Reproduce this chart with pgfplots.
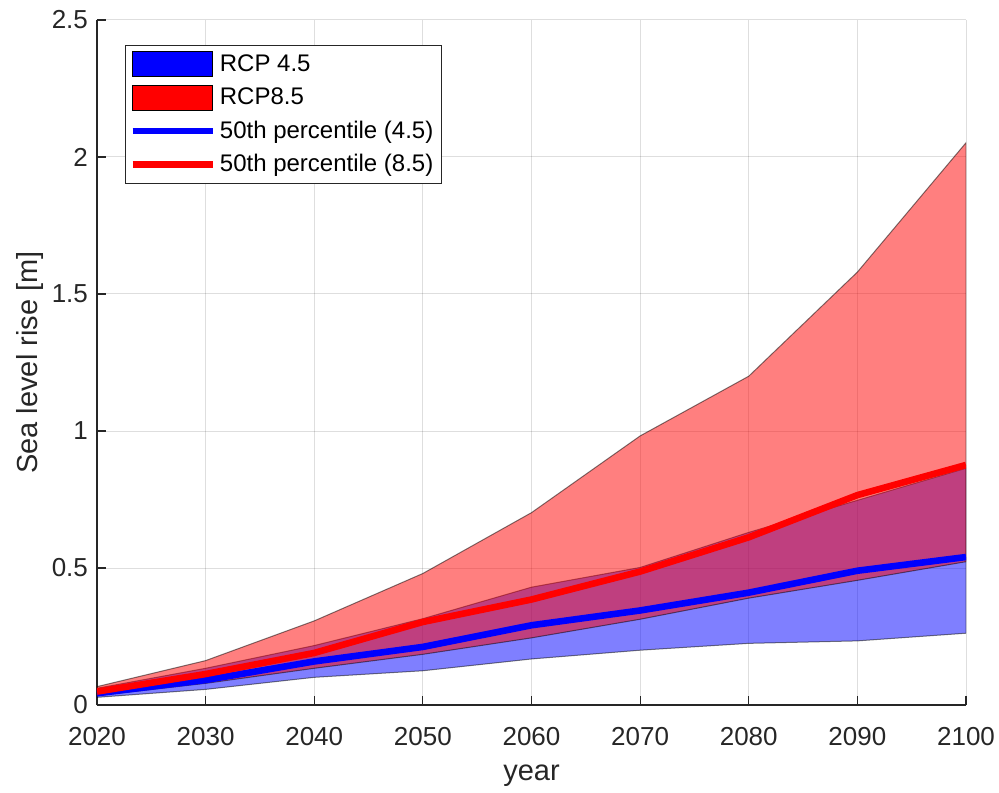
\documentclass[border=0pt]{standalone}
\usepackage{fontspec}
\setmainfont{Liberation Sans}
\usepackage{pgfplots}
\pgfplotsset{compat=1.18}
\definecolor{axgray}{RGB}{38,38,38}

\begin{document}
\begin{tikzpicture}
\begin{axis}[
    scale only axis,
    width=434.5pt,
    height=342.5pt,
    xmin=2020, xmax=2100,
    ymin=0, ymax=2.5,
    xtick={2020,2030,...,2100},
    ytick={0,0.5,1,1.5,2,2.5},
    /pgf/number format/1000 sep={},
    /pgf/number format/assume math mode=true,
    axis x line*=bottom,
    axis y line*=left,
    axis line style={axgray, line width=0.6pt, -},
    tick align=inside,
    major tick length=4.5pt,
    tick style={axgray, line width=0.6pt},
    grid=major,
    major grid style={black, opacity=0.13, line width=0.5pt},
    ticklabel style={font=\fontsize{13}{15}\selectfont, text=axgray},
    xticklabel style={yshift=-7.5pt},
    yticklabel style={xshift=-1pt},
    xlabel={year},
    ylabel={Sea level rise [m]},
    label style={font=\fontsize{14.5}{17}\selectfont, text=axgray},
    xlabel style={at={(axis description cs:0.5,-0.103)}, anchor=center},
    ylabel style={at={(axis description cs:-0.077,0.5)}, anchor=center},
    legend cell align=left,
    legend style={
        at={(0.032,0.9635)}, anchor=north west,
        draw=axgray, line width=0.5pt,
        font=\fontsize{12}{13}\selectfont,
        row sep=2.7pt, inner xsep=2pt, inner ysep=2.5pt,
    },
]

% RCP 4.5 range
\addplot[fill=blue, fill opacity=0.5, draw=black, draw opacity=0.5, line width=0.5pt,
    legend image code/.code={\draw[fill=blue, fill opacity=1, draw=black, draw opacity=1, line width=0.5pt] (0pt,-6.25pt) rectangle (40pt,6.25pt);}]
coordinates {
    (2020,0.061) (2030,0.134) (2040,0.217) (2050,0.315) (2060,0.430)
    (2070,0.502) (2080,0.630) (2090,0.747) (2100,0.864)
    (2100,0.262) (2090,0.234) (2080,0.225) (2070,0.200) (2060,0.168)
    (2050,0.125) (2040,0.101) (2030,0.057) (2020,0.028)
} -- cycle;

% RCP 8.5 range
\addplot[fill=red, fill opacity=0.5, draw=black, draw opacity=0.5, line width=0.5pt,
    legend image code/.code={\draw[fill=red, fill opacity=1, draw=black, draw opacity=1, line width=0.5pt] (0pt,-6.25pt) rectangle (40pt,6.25pt);}]
coordinates {
    (2020,0.067) (2030,0.162) (2040,0.307) (2050,0.480) (2060,0.702)
    (2070,0.982) (2080,1.200) (2090,1.580) (2100,2.052)
    (2100,0.523) (2090,0.455) (2080,0.390) (2070,0.313) (2060,0.245)
    (2050,0.185) (2040,0.134) (2030,0.079) (2020,0.034)
} -- cycle;

% medians
\addplot[blue, line width=3.3pt, line join=round,
    legend image code/.code={\draw[blue, line width=3.3pt] (0pt,0pt) -- (40pt,0pt);}]
coordinates {
    (2020,0.043) (2030,0.091) (2040,0.159) (2050,0.212) (2060,0.291)
    (2070,0.345) (2080,0.410) (2090,0.490) (2100,0.540)
};
\addplot[red, line width=3.3pt, line join=round,
    legend image code/.code={\draw[red, line width=3.3pt] (0pt,0pt) -- (40pt,0pt);}]
coordinates {
    (2020,0.049) (2030,0.113) (2040,0.190) (2050,0.303) (2060,0.385)
    (2070,0.487) (2080,0.612) (2090,0.766) (2100,0.876)
};

\legend{RCP 4.5, RCP8.5, 50th percentile (4.5), 50th percentile (8.5)}
\end{axis}
\pgfresetboundingbox
\path[use as bounding box] (-48.5pt,-43.5pt) rectangle (451pt,352.5pt);
\end{tikzpicture}
\end{document}
